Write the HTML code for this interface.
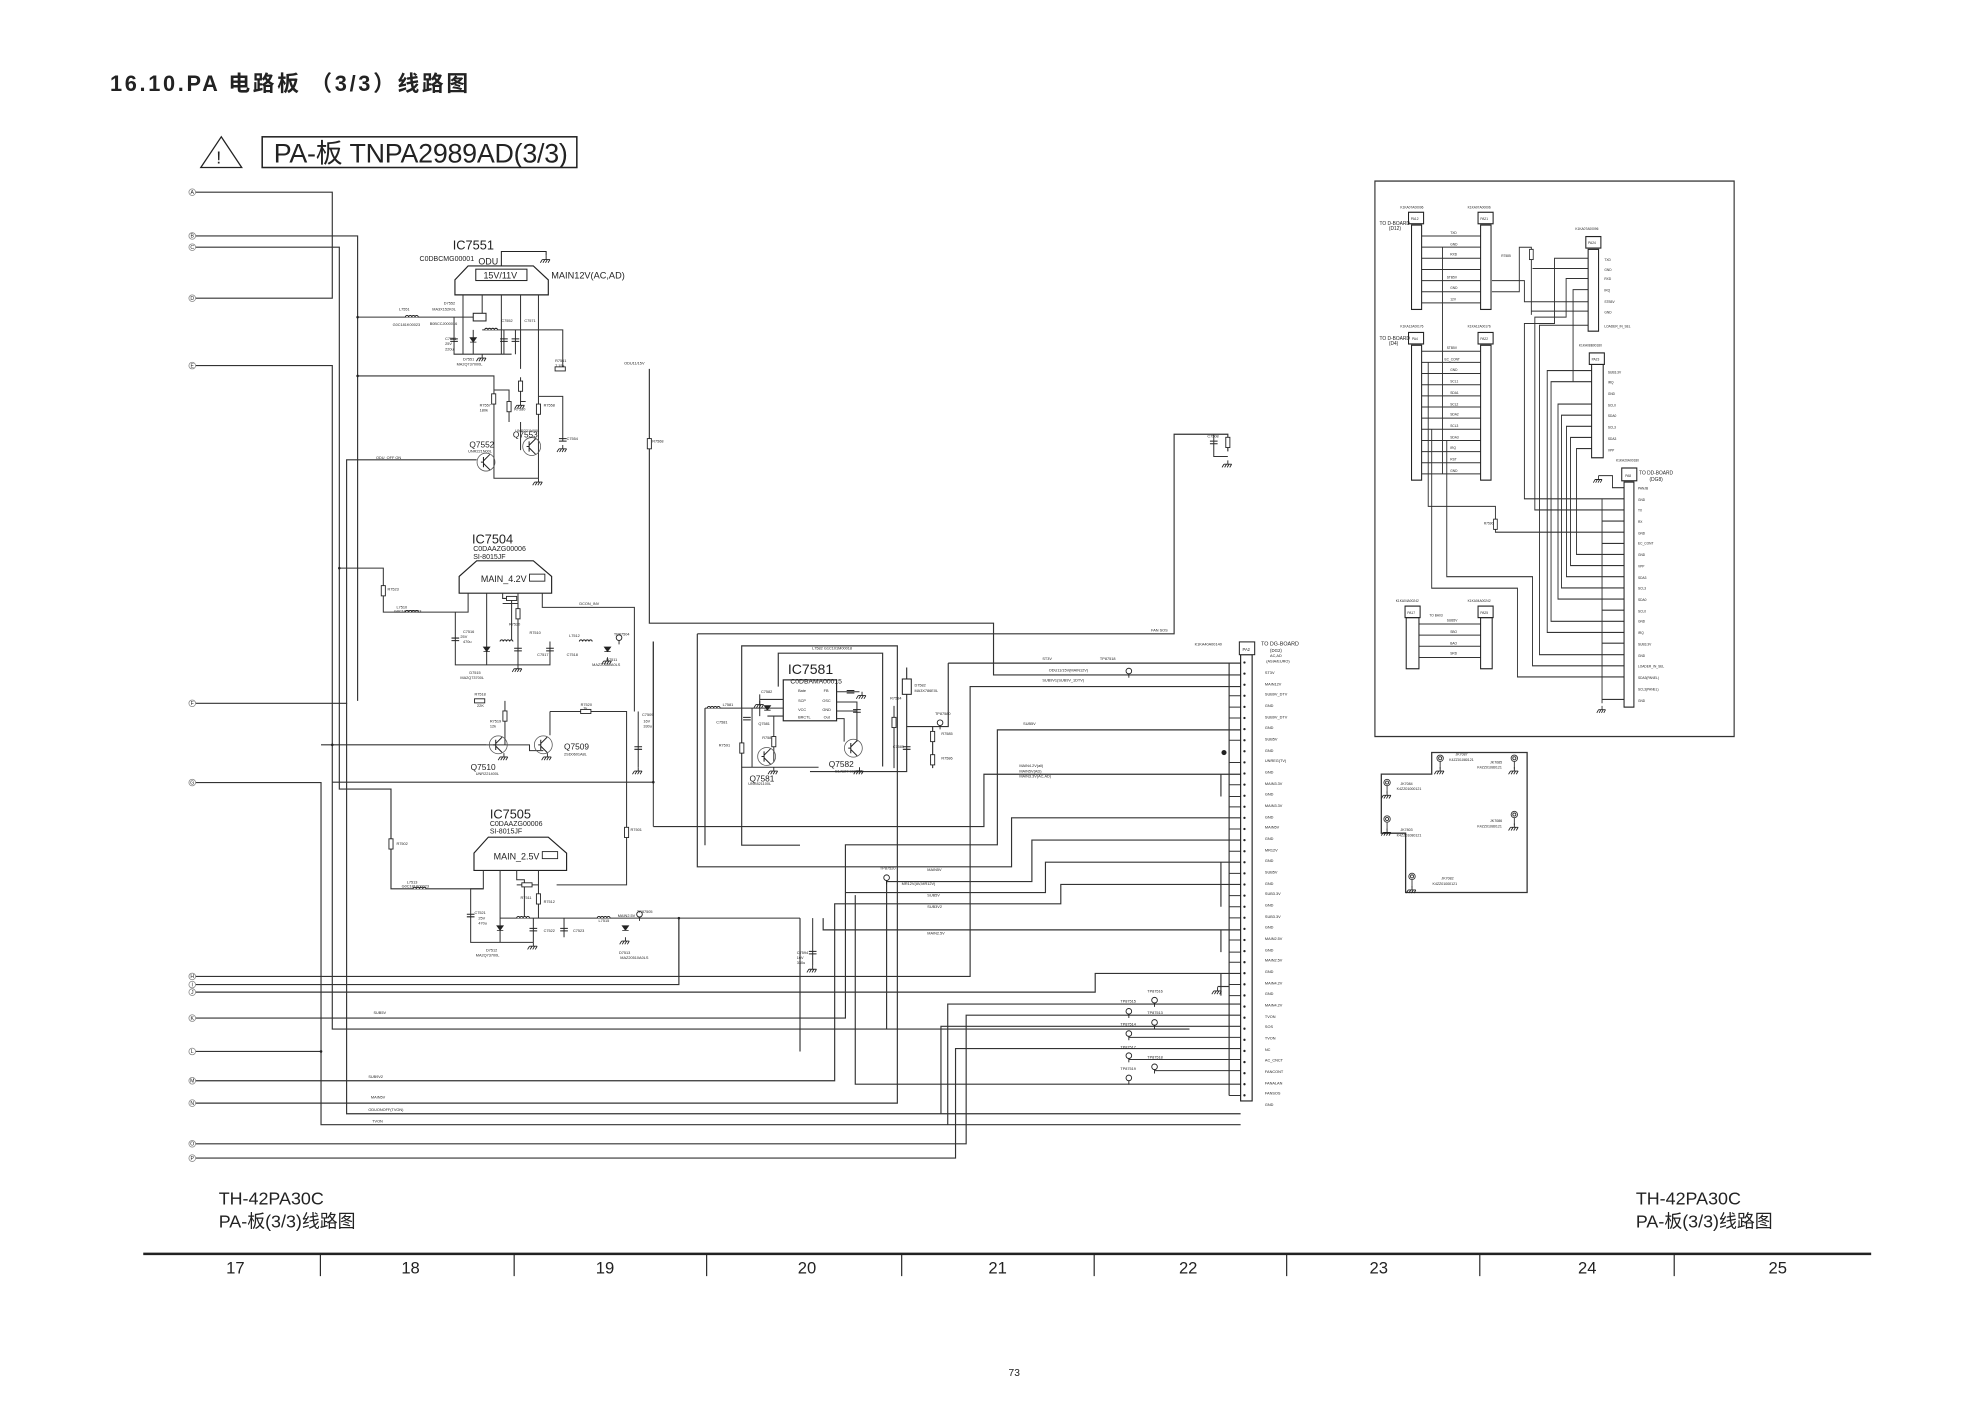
<!DOCTYPE html>
<html><head><meta charset="utf-8"><style>
html,body{margin:0;padding:0;background:#fff;}
svg{display:block;}
text{font-family:"Liberation Sans","Noto Sans CJK SC",sans-serif;fill:#222;}
</style></head><body>
<svg width="1985" height="1404" viewBox="0 0 1552 1098" preserveAspectRatio="none" xmlns="http://www.w3.org/2000/svg">
<defs>
<g id="gnd" stroke="#222" stroke-width="0.7" fill="none"><path d="M0,0v3M-3,3h6M-3,3l-1.5,2.5M-1,3l-1.5,2.5M1,3l-1.5,2.5M3,3l-1.5,2.5"/></g>
<g id="rv"><rect x="-1.6" y="-4" width="3.2" height="8" fill="#fff" stroke="#222" stroke-width="0.7"/></g>
<g id="rh"><rect x="-4" y="-1.6" width="8" height="3.2" fill="#fff" stroke="#222" stroke-width="0.7"/></g>
<g id="cv" stroke="#222" stroke-width="0.8"><path d="M-3,-1h6M-3,1h6" /></g>
<g id="tr"><circle r="7" fill="none" stroke="#555" stroke-width="0.6"/><path d="M-4,0h2M-2,-4v8M-2,-1l5,-5M-2,1l5,5" stroke="#222" stroke-width="0.8" fill="none"/></g>
<g id="tp"><circle r="2.2" cy="-3" fill="#fff" stroke="#222" stroke-width="0.7"/><path d="M0,-0.8v3" stroke="#222" stroke-width="0.7"/></g>
<g id="ind"><path d="M-5,0a1.25,1.25 0 0 1 2.5,0a1.25,1.25 0 0 1 2.5,0a1.25,1.25 0 0 1 2.5,0a1.25,1.25 0 0 1 2.5,0" fill="#fff" stroke="#222" stroke-width="0.8"/></g>
<g id="dio"><path d="M-2.5,-2h5l-2.5,3.5z M-2.5,1.6h5" fill="#222" stroke="#222" stroke-width="0.6"/></g>
</defs>

<!-- Title -->
<text x="86" y="71" font-size="17" font-weight="bold" font-family="Liberation Mono,'Noto Sans CJK SC',monospace" textLength="280">16.10.PA 电路板 （3/3）线路图</text>
<path d="M173,107 L157,131 L189,131 Z" fill="none" stroke="#222" stroke-width="1"/>
<text x="171" y="128" font-size="14" text-anchor="middle">!</text>
<rect x="205" y="107" width="246" height="24" fill="none" stroke="#222" stroke-width="1.2"/>
<text x="214" y="127" font-size="21" textLength="230">PA-板 TNPA2989AD(3/3)</text>

<g stroke="#333" stroke-width="0.9" fill="none">
<path d="M153,150.3H259.8V233.2H153"/>
<path d="M153,184.5H279.6V548.1"/>
<path d="M153,193.3H265.3V617.1H305.7V695.1H377.9"/>
<path d="M153,285.9H259.8V804.8H930"/>
<path d="M153,550H271V359.6H372.7"/>
<path d="M271,550V871H970"/>
<path d="M153,612H251V879.6H970"/>
<path d="M251,582.5H380.5"/>
<path d="M259.8,611.7H510.8V501.7"/>
<path d="M510.8,646.4H769.3V605.5H970"/>
<path d="M153,763.6H758.5V536.9H970"/>
<path d="M153,770H530.8V718"/>
<path d="M153,775.9H856.3V761.3H970"/>
<path d="M153,796.2H661V660.7H779.8V570.8H970"/>
<path d="M153,822.3H251"/>
<path d="M153,845.2H652.6V706.8H829.4V691.7H970"/>
<path d="M153,862.7H701.6V505.1H579.9V661H625.5"/>
<path d="M153,894.5H755.4V793.9H970"/>
<path d="M153,905.7H747.1V820H970"/>
<path d="M693.2,804.8V689.4H806.8V657H970"/>
<path d="M735.7,871V802.6H970"/>
<path d="M741,879.6V785.2H970"/>
<path d="M668.7,700V847.9H970"/>
<path d="M661,698H817.4V674.3H970"/>
<path d="M643.6,718V727.2H970"/>
<path d="M625.5,718V822.3"/>
<path d="M545.2,495.7H918V339.6H960V353"/>
<path d="M545.2,495.7V677.9H790.9V639.6H970"/>
<path d="M507.7,288.5V487.4H776.8V527.8H970"/>
<path d="M741.4,518.6H970"/>
<path d="M741.4,518.6V568.2H708.9"/>
<path d="M708.9,522V603.4H633.3"/>
<path d="M551.2,553.8V661"/>
<path d="M608.5,537V510.8H690.1V599.4"/>
<path d="M729.2,568.2V600.7"/>
<path d="M961,518.1V856.7"/>
<path d="M954.6,605.5V622.9M954.6,674.3V691.7V709.1M954.6,727.2V744.6M954.6,761.3V778.6"/>
<path d="M961,771.5H952"/>
</g>
<g stroke="#333" stroke-width="0.8">
<path d="M961,544.1H970M961,561.5H970M961,578.9H970M961,596.3H970M961,613.7H970M961,631H970M961,648.3H970M961,665.7H970M961,683H970M961,700.4H970M961,717.8H970M961,735.1H970M961,752.5H970M961,769.9H970M961,856.7H970M961,553H970M961,622.9H970M961,709.1H970M961,744.6H970M961,778.6H970"/>
<path d="M882.6,811.3H970M882.6,828.6H970M902.7,837.3H970"/>
</g>
<!-- connector PA2 -->
<rect x="970" y="512" width="9" height="349" fill="#fff" stroke="#222" stroke-width="0.9"/>
<rect x="969" y="502" width="12" height="10" fill="#fff" stroke="#222" stroke-width="0.8"/>
<text x="971.5" y="509" font-size="3.2">PA2</text>
<text x="934" y="505" font-size="3">K1KA40A00140</text>
<text x="986" y="505" font-size="4.2">TO DG-BOARD</text>
<text x="993" y="510" font-size="3.4">(DG2)</text>
<text x="993" y="514" font-size="3">AC,AD</text>
<text x="990" y="518" font-size="3">(ASIA/EURO)</text>
<g font-size="3" fill="#333">
<text x="989" y="527">ST3V</text><text x="989" y="536">MAIN12V</text><text x="989" y="544">SUB9V_DTV</text><text x="989" y="553">GND</text><text x="989" y="562">SUB9V_DTV</text><text x="989" y="570">GND</text><text x="989" y="579">SUB5V</text><text x="989" y="588">GND</text><text x="989" y="596">UNREG(TV)</text><text x="989" y="605">GND</text><text x="989" y="614">MAIN3.3V</text><text x="989" y="622">GND</text><text x="989" y="631">MAIN3.3V</text><text x="989" y="640">GND</text><text x="989" y="648">MAIN5V</text><text x="989" y="657">GND</text><text x="989" y="666">MR12V</text><text x="989" y="674">GND</text><text x="989" y="683">SUB5V</text><text x="989" y="692">GND</text><text x="989" y="700">SUB3.3V</text><text x="989" y="709">GND</text><text x="989" y="718">SUB3.3V</text><text x="989" y="726">GND</text><text x="989" y="735">MAIN2.5V</text><text x="989" y="744">GND</text><text x="989" y="752">MAIN2.5V</text><text x="989" y="761">GND</text><text x="989" y="770">MAIN4.2V</text><text x="989" y="778">GND</text><text x="989" y="787">MAIN4.2V</text><text x="989" y="796">TVON</text><text x="989" y="804">SOS</text><text x="989" y="813">TVON</text><text x="989" y="822">NC</text><text x="989" y="830">AC_CNCT</text><text x="989" y="839">FANCONT</text><text x="989" y="848">FANALAN</text><text x="989" y="856">FANSOS</text><text x="989" y="865">GND</text>
</g>
<g fill="#222">
<circle cx="973" cy="518.1" r="0.9"/><circle cx="973" cy="526.8" r="0.9"/><circle cx="973" cy="535.5" r="0.9"/><circle cx="973" cy="544.1" r="0.9"/><circle cx="973" cy="552.8" r="0.9"/><circle cx="973" cy="561.5" r="0.9"/><circle cx="973" cy="570.2" r="0.9"/><circle cx="973" cy="578.9" r="0.9"/><circle cx="973" cy="587.5" r="0.9"/><circle cx="973" cy="596.2" r="0.9"/><circle cx="973" cy="604.9" r="0.9"/><circle cx="973" cy="613.6" r="0.9"/><circle cx="973" cy="622.3" r="0.9"/><circle cx="973" cy="630.9" r="0.9"/><circle cx="973" cy="639.6" r="0.9"/><circle cx="973" cy="648.3" r="0.9"/><circle cx="973" cy="657" r="0.9"/><circle cx="973" cy="665.7" r="0.9"/><circle cx="973" cy="674.3" r="0.9"/><circle cx="973" cy="683" r="0.9"/><circle cx="973" cy="691.7" r="0.9"/><circle cx="973" cy="700.4" r="0.9"/><circle cx="973" cy="709.1" r="0.9"/><circle cx="973" cy="717.7" r="0.9"/><circle cx="973" cy="726.4" r="0.9"/><circle cx="973" cy="735.1" r="0.9"/><circle cx="973" cy="743.8" r="0.9"/><circle cx="973" cy="752.5" r="0.9"/><circle cx="973" cy="761.1" r="0.9"/><circle cx="973" cy="769.8" r="0.9"/><circle cx="973" cy="778.5" r="0.9"/><circle cx="973" cy="787.2" r="0.9"/><circle cx="973" cy="795.9" r="0.9"/><circle cx="973" cy="804.5" r="0.9"/><circle cx="973" cy="813.2" r="0.9"/><circle cx="973" cy="821.9" r="0.9"/><circle cx="973" cy="830.6" r="0.9"/><circle cx="973" cy="839.3" r="0.9"/><circle cx="973" cy="847.9" r="0.9"/><circle cx="973" cy="856.6" r="0.9"/>
<circle cx="957" cy="588.5" r="2"/>
</g>
<use href="#gnd" x="952" y="772"/>
<use href="#tp" x="902.7" y="785.2"/><use href="#tp" x="882.6" y="793.9"/><use href="#tp" x="902.7" y="802.6"/><use href="#tp" x="882.6" y="811.3"/><use href="#tp" x="882.6" y="828.6"/><use href="#tp" x="902.7" y="837.3"/><use href="#tp" x="882.6" y="846"/><use href="#tp" x="693.2" y="689.4"/><use href="#tp" x="735" y="568.2"/><use href="#tp" x="882.6" y="527.8"/>
<g font-size="3" fill="#333">
<text x="897" y="776">TP87516</text><text x="876" y="784">TP87515</text><text x="897" y="793">TP87513</text><text x="876" y="802">TP87514</text><text x="876" y="820">TP87517</text><text x="897" y="828">TP87518</text><text x="876" y="837">TP87519</text><text x="688" y="680">TP87520</text>
<text x="860" y="516">TP87518</text><text x="815" y="516">ST3V</text><text x="820" y="525">ODU11/15V(MAIN12V)</text><text x="815" y="533">SUB9V1(SUB9V_1DTV)</text><text x="800" y="567">SUB5V</text><text x="797" y="600">MAIN4.2V(all)</text><text x="797" y="604">MAIN5V(AD)</text><text x="797" y="608">MAIN3.3V(AC,AD)</text>
<text x="725" y="681">MAIN5V</text><text x="705" y="692">MR12V(AV,MR12V)</text><text x="725" y="701">SUB5V</text><text x="725" y="710">SUB3V2</text><text x="725" y="731">MAIN2.5V</text><text x="900" y="494">FAN SOS</text>
<text x="292" y="793">SUB5V</text><text x="288" y="843">SUB9V2</text><text x="290" y="859">MAIN5V</text><text x="288" y="869">ODUONOFF(TVON)</text><text x="291" y="878">TVON</text>
<text x="488" y="285">ODU11/15V</text><text x="453" y="473">DCON_INV</text>
</g>

<!-- IC7551 -->
<text x="354" y="195" font-size="10">IC7551</text>
<text x="328" y="204" font-size="5.5">C0DBCMG00001</text>
<text x="374" y="207" font-size="7">ODU</text>
<path d="M392,208V196.7H427V200" fill="none" stroke="#222" stroke-width="0.8"/>
<use href="#gnd" x="427" y="200"/>
<path d="M366,208H417L428.7,218.9V230.6H355.7V218.9Z" fill="#fff" stroke="#222" stroke-width="0.9"/>
<rect x="372" y="210.5" width="40" height="8.9" fill="#fff" stroke="#222" stroke-width="0.8"/>
<text x="378" y="217.8" font-size="7">15V/11V</text>
<text x="431" y="218" font-size="7.2">MAIN12V(AC,AD)</text>
<g stroke="#333" stroke-width="0.8" fill="none">
<path d="M362,230.6V277M377,230.6V247M392,230.6V277M407,230.6V288.5M421,230.6V374"/>
<path d="M279.6,248H363.5M363.5,248H377M377,258H440V288.5"/>
<path d="M355,248V277H400M370,258V277M394,258V277M403,258V277"/>
<path d="M279.6,294H386.2V374H421M407,295V314H411M421,310H440V345"/>
<path d="M386,305H398V330M407,330V352"/>
</g>
<use href="#ind" x="322" y="248"/><use href="#ind" x="384" y="258"/>
<rect x="370" y="245" width="10" height="6" fill="#fff" stroke="#222" stroke-width="0.8"/>
<use href="#cv" x="355" y="266"/><use href="#cv" x="394" y="266"/><use href="#cv" x="403" y="266"/><use href="#dio" x="370" y="266"/>
<use href="#gnd" x="377" y="277"/>
<use href="#rh" x="438" y="288.5"/><use href="#rv" x="407" y="302"/><use href="#rv" x="386" y="312"/><use href="#rv" x="398" y="318"/><use href="#rv" x="421" y="320"/><use href="#cv" x="440" y="344"/><use href="#gnd" x="440" y="348"/><use href="#gnd" x="407" y="314"/>
<use href="#rv" x="507.7" y="347"/>
<use href="#tr" x="380" y="361.4"/><use href="#tr" x="415.7" y="349.2"/><use href="#gnd" x="421" y="374"/>
<g font-size="3" fill="#333"><text x="312" y="243">L7551</text><text x="307" y="255">G0C181K00023</text><text x="347" y="238">D7552</text><text x="338" y="243">MA3X152K0L</text><text x="336" y="254">B0BCCJ000016</text><text x="348" y="266">C7551</text><text x="348" y="270">25V</text><text x="348" y="274">220u</text><text x="362" y="282">D7551</text><text x="357" y="286">MA2Q737000L</text><text x="434" y="283">R7561</text><text x="434" y="287">7.15k</text><text x="392" y="252">C7552</text><text x="410" y="252">C7571</text><text x="375" y="318">R7557</text><text x="375" y="322">180k</text><text x="402" y="321">R7580</text><text x="425" y="318">R7558</text><text x="510" y="346">R7568</text><text x="294" y="359">ODU_OFF  ON</text><text x="403" y="338">UNR221N00L</text><text x="366" y="354">UNR221N00L</text><text x="443" y="344">C7554</text></g>
<text x="401" y="342" font-size="6.5">Q7553</text><text x="367" y="350" font-size="6.5">Q7552</text>

<!-- IC7504 -->
<text x="369" y="425" font-size="10">IC7504</text>
<text x="370" y="431" font-size="5.5">C0DAAZG00006</text>
<text x="370" y="437" font-size="5.5">SI-8015JF</text>
<path d="M372.7,438.6H417L431.3,450.8V463.9H359V450.8Z" fill="#fff" stroke="#222" stroke-width="0.9"/>
<text x="376" y="455" font-size="7">MAIN_4.2V</text><rect x="414" y="449" width="12" height="5.5" fill="none" stroke="#222" stroke-width="0.7"/>
<g stroke="#333" stroke-width="0.8" fill="none">
<path d="M366,463.9V478.7H299.7V444.3H265.3M380.5,463.9V520M393,463.9V468H400V501.7M405,463.9V520"/>
<path d="M424,463.9V475H496V556.4"/>
<path d="M356,478.7V520H430V501.7"/>
<path d="M393,472H405M405,472V501.7"/>
<path d="M510.8,501.7V646.4"/>
<path d="M394.8,548.1V582.5H380.5M394.8,582.5H414V587H424.8M430,556.4H489.9V692H435.2M430,556.4V575"/>
<path d="M499,556.4V600"/>
</g>
<use href="#rv" x="299.7" y="462"/><use href="#ind" x="322" y="478.7"/><use href="#cv" x="356" y="500"/><use href="#dio" x="380.5" y="508"/><use href="#rh" x="400" y="468"/><use href="#rv" x="405" y="480"/><use href="#ind" x="396" y="501.7"/><use href="#cv" x="405" y="508"/><use href="#cv" x="430" y="508"/><use href="#ind" x="458" y="501.7"/><use href="#dio" x="475" y="508"/><use href="#tp" x="484" y="501.7"/><use href="#gnd" x="405" y="520"/><use href="#gnd" x="475" y="514"/>
<use href="#rh" x="375" y="548.1"/><use href="#rv" x="394.8" y="560"/><use href="#rh" x="458" y="556.4"/><use href="#tr" x="389.6" y="582.5"/><use href="#tr" x="424.8" y="582.5"/><use href="#gnd" x="394" y="589"/><use href="#gnd" x="428" y="589"/><use href="#cv" x="499" y="585"/><use href="#gnd" x="499" y="600"/>
<text x="368" y="602" font-size="6.5">Q7510</text><text x="441" y="586" font-size="6.5">Q7509</text>
<g font-size="3" fill="#333"><text x="303" y="462">R7523</text><text x="310" y="476">L7510</text><text x="308" y="479">G0C181K00023</text><text x="362" y="495">C7516</text><text x="360" y="499">25V</text><text x="362" y="503">470u</text><text x="367" y="527">D7515</text><text x="360" y="531">MA2Q73700L</text><text x="398" y="489">R7520</text><text x="414" y="496">R7510</text><text x="445" y="498">L7512</text><text x="480" y="497">TP87504</text><text x="474" y="517">D7511</text><text x="463" y="521">MAZ20680A0LS</text><text x="420" y="513">C7517</text><text x="443" y="513">C7518</text><text x="371" y="544">R7518</text><text x="373" y="553">22K</text><text x="383" y="565">R7519</text><text x="383" y="569">12k</text><text x="454" y="552">R7520</text><text x="456" y="555">1k</text><text x="372" y="606">UNR221400L</text><text x="441" y="591">2SD0601A8L</text><text x="502" y="560">C7509</text><text x="503" y="565">16V</text><text x="503" y="569">330u</text></g>

<!-- IC7505 -->
<text x="383" y="640" font-size="10">IC7505</text>
<text x="383" y="646" font-size="5.5">C0DAAZG00006</text>
<text x="383" y="652" font-size="5.5">SI-8015JF</text>
<path d="M381.8,654.7H428.7L443,667.2V680.7H370.6V667.2Z" fill="#fff" stroke="#222" stroke-width="0.9"/>
<text x="386" y="672" font-size="7">MAIN_2.5V</text><rect x="424" y="666" width="12" height="5.5" fill="none" stroke="#222" stroke-width="0.7"/>
<g stroke="#333" stroke-width="0.8" fill="none">
<path d="M377.9,680.7V695.1H368V737H417M391,680.7V737M404,680.7V688H410V718M421,680.7V718"/>
<path d="M404,692H421M391,718H625.5"/>
<path d="M417,718V737M441,718V733"/>
<path d="M530.8,718V763.6"/>
<path d="M635.4,718V755"/>
</g>
<use href="#rv" x="305.7" y="660"/><use href="#ind" x="328" y="695.1"/><use href="#cv" x="368" y="716"/><use href="#dio" x="391" y="726"/><use href="#rh" x="412" y="692"/><use href="#rv" x="421" y="703"/><use href="#ind" x="409" y="718"/><use href="#cv" x="417" y="727"/><use href="#cv" x="441" y="727"/><use href="#ind" x="472" y="718"/><use href="#dio" x="489" y="726"/><use href="#tp" x="500" y="718"/><use href="#gnd" x="417" y="737"/><use href="#gnd" x="489" y="733"/><use href="#rv" x="489.9" y="651"/>
<use href="#cv" x="635.4" y="745"/><use href="#gnd" x="635.4" y="755"/>
<g font-size="3" fill="#333"><text x="310" y="661">R7502</text><text x="318" y="691">L7513</text><text x="314" y="694">G0C181K00023</text><text x="371" y="715">C7521</text><text x="374" y="719">25V</text><text x="374" y="723">470u</text><text x="380" y="744">D7512</text><text x="372" y="748">MA2Q73700L</text><text x="407" y="703">R7511</text><text x="425" y="706">R7512</text><text x="425" y="729">C7522</text><text x="448" y="729">C7523</text><text x="468" y="721">L7515</text><text x="483" y="717">MAIN2.5V</text><text x="498" y="714">TP87505</text><text x="484" y="746">D7513</text><text x="485" y="750">MAZ20510A0LS</text><text x="493" y="650">R7501</text><text x="623" y="746">C7594</text><text x="623" y="750">16V</text><text x="623" y="754">330u</text></g>

<!-- IC7581 -->
<rect x="612.4" y="531.7" width="41.7" height="32" fill="#fff" stroke="#222" stroke-width="0.9"/>
<text x="616" y="527" font-size="11">IC7581</text>
<text x="618" y="534.5" font-size="5.3">C0DBAMA00015</text>
<g font-size="3" fill="#333"><text x="624" y="541">Bate</text><text x="624" y="549">SCP</text><text x="624" y="556">VCC</text><text x="624" y="562">BRCTL</text><text x="644" y="541">FB</text><text x="643" y="549">OSC</text><text x="643" y="556">GND</text><text x="644" y="562">Out</text><text x="635" y="508">L7582 G1C101M00018</text><text x="595" y="542">C7582</text><text x="565" y="552">L7581</text><text x="560" y="566">C7581</text><text x="562" y="584">R7591</text><text x="593" y="567">Q7581</text><text x="596" y="578">R7583</text><text x="585" y="614">UNR821100L</text><text x="653" y="604">B1ABFF000009</text><text x="696" y="547">R7584</text><text x="715" y="537">D7582</text><text x="715" y="541">MA3X786E0L</text><text x="736" y="575">R7585</text><text x="736" y="594">R7586</text><text x="698" y="585">C7585</text><text x="731" y="559">TP87580</text></g>
<g stroke="#333" stroke-width="0.8" fill="none">
<path d="M551.2,553.8H612.4M594,547H612.4M594,543V560M600,560H612.4M605,560V596M654.1,541H672M654.1,549H670V580M654.1,556H670M654.1,562H660V580M699,552V600.7"/>
<path d="M588,553.8V600M580,600H640"/>
</g>
<use href="#ind" x="558" y="553.8"/><use href="#cv" x="584" y="562"/><use href="#rv" x="580" y="585"/><use href="#dio" x="600" y="553.8"/><use href="#rv" x="605" y="580"/><use href="#cv" x="665" y="541"/><use href="#cv" x="670" y="556"/><use href="#rv" x="699" y="565"/><use href="#rv" x="729.2" y="576"/><use href="#rv" x="729.2" y="594.2"/><use href="#cv" x="708.9" y="585"/><rect x="705.5" y="531" width="7" height="12" fill="#fff" stroke="#222" stroke-width="0.8"/>
<use href="#tr" x="599.4" y="591.6"/><use href="#tr" x="667.2" y="585.1"/><use href="#gnd" x="605" y="600"/><use href="#gnd" x="672" y="600"/><use href="#gnd" x="674" y="541"/><use href="#gnd" x="594" y="548"/>
<text x="586" y="611" font-size="6.5">Q7581</text><text x="648" y="600" font-size="6.5">Q7582</text>
<use href="#cv" x="949" y="346"/><use href="#rv" x="960" y="346"/><use href="#gnd" x="960" y="360"/>
<path d="M949,339.6V357H960" stroke="#333" stroke-width="0.8" fill="none"/>
<text x="944" y="342" font-size="3">C7508</text>

<!-- letters -->
<g font-size="4" text-anchor="middle" fill="#444">
<circle cx="150.3" cy="150.3" r="2.6" fill="#fff" stroke="#888" stroke-width="0.6"/><text x="150.3" y="151.7">A</text>
<circle cx="150.3" cy="184.5" r="2.6" fill="#fff" stroke="#888" stroke-width="0.6"/><text x="150.3" y="185.9">B</text>
<circle cx="150.3" cy="193.3" r="2.6" fill="#fff" stroke="#888" stroke-width="0.6"/><text x="150.3" y="194.7">C</text>
<circle cx="150.3" cy="233.2" r="2.6" fill="#fff" stroke="#888" stroke-width="0.6"/><text x="150.3" y="234.6">D</text>
<circle cx="150.3" cy="285.9" r="2.6" fill="#fff" stroke="#888" stroke-width="0.6"/><text x="150.3" y="287.3">E</text>
<circle cx="150.3" cy="550" r="2.6" fill="#fff" stroke="#888" stroke-width="0.6"/><text x="150.3" y="551.4">F</text>
<circle cx="150.3" cy="612" r="2.6" fill="#fff" stroke="#888" stroke-width="0.6"/><text x="150.3" y="613.4">G</text>
<circle cx="150.3" cy="763.6" r="2.6" fill="#fff" stroke="#888" stroke-width="0.6"/><text x="150.3" y="765">H</text>
<circle cx="150.3" cy="770" r="2.6" fill="#fff" stroke="#888" stroke-width="0.6"/><text x="150.3" y="771.4">I</text>
<circle cx="150.3" cy="775.9" r="2.6" fill="#fff" stroke="#888" stroke-width="0.6"/><text x="150.3" y="777.3">J</text>
<circle cx="150.3" cy="796.2" r="2.6" fill="#fff" stroke="#888" stroke-width="0.6"/><text x="150.3" y="797.6">K</text>
<circle cx="150.3" cy="822.3" r="2.6" fill="#fff" stroke="#888" stroke-width="0.6"/><text x="150.3" y="823.7">L</text>
<circle cx="150.3" cy="845.2" r="2.6" fill="#fff" stroke="#888" stroke-width="0.6"/><text x="150.3" y="846.6">M</text>
<circle cx="150.3" cy="862.7" r="2.6" fill="#fff" stroke="#888" stroke-width="0.6"/><text x="150.3" y="864.1">N</text>
<circle cx="150.3" cy="894.5" r="2.6" fill="#fff" stroke="#888" stroke-width="0.6"/><text x="150.3" y="895.9">O</text>
<circle cx="150.3" cy="905.7" r="2.6" fill="#fff" stroke="#888" stroke-width="0.6"/><text x="150.3" y="907.1">P</text>
</g>
<g fill="#222"><circle cx="279.6" cy="248" r="1"/><circle cx="279.6" cy="294" r="1"/><circle cx="251" cy="822.3" r="1"/><circle cx="530.8" cy="718" r="1"/><circle cx="510.8" cy="611.7" r="1"/><circle cx="259.8" cy="582.5" r="1"/><circle cx="265.3" cy="444.3" r="1"/></g>

<!-- Right box (scaled horizontally) -->
<g transform="translate(1075,0) scale(0.906,1) translate(-1075,0)">
<rect x="1075" y="141.6" width="310" height="434.4" fill="none" stroke="#333" stroke-width="1"/>
<g stroke="#333" stroke-width="0.8" fill="none">
<path d="M1115,184.6H1166M1115,193.3H1166M1115,202H1166M1115,210.8H1166M1115,219.5H1166M1115,228.2H1166M1115,236.9H1166"/>
<path d="M1115,274.7H1166M1115,283.4H1166M1115,292.1H1166M1115,300.9H1166M1115,309.6H1166M1115,318.3H1166M1115,327H1166M1115,335.7H1166M1115,344.5H1166M1115,353.2H1166M1115,361.9H1166M1115,370.6H1166"/>
<path d="M1133.3,193.3V370.6"/>
<path d="M1113,488H1166M1113,496.7H1166M1113,505.4H1166M1113,514.2H1166"/>
<path d="M1176,219.5H1204V236H1259M1176,228.2H1199.6V193.4H1210V199M1210,203V246.2V243.3H1259M1211,210H1259"/>
<path d="M1290,390.1H1204V253H1230V202H1259"/>
<path d="M1290,398.8H1213V248H1240V217.8H1259"/>
<path d="M1290,416.2H1179V396H1121V283.4"/>
<path d="M1290,433.6H1249V350.8H1262M1290,442.3H1243.8V342.1H1262M1290,451H1240.3V333.4H1262M1290,459.8H1236V324.7H1262M1290,468.5H1233V316H1262"/>
<path d="M1290,485.9H1227V298.5H1262M1290,494.6H1223.7V289.8H1262M1246,298.5V226.5H1259"/>
<path d="M1290,512H1217V254.4H1259"/>
<path d="M1290,520.7H1211V451H1137V344.5"/>
<path d="M1290,529.4H1198V460H1124V335.7"/>
<path d="M1271,390V550M1271,407.5H1290M1271,425H1290M1271,477.2H1290M1271,503H1290M1271,547H1290"/>
<path d="M1268,372H1280V381.4H1290"/>
</g>
<use href="#rv" x="1179" y="410"/><use href="#rv" x="1210" y="199"/><use href="#gnd" x="1268" y="372"/><use href="#gnd" x="1271" y="552"/>
<g fill="#fff" stroke="#222" stroke-width="0.9">
<rect x="1106.6" y="176" width="8.7" height="66"/><rect x="1104" y="166" width="13" height="9"/>
<rect x="1166.2" y="176" width="9" height="66"/><rect x="1164" y="166" width="13" height="9"/>
<rect x="1106.6" y="270" width="8.7" height="105.5"/><rect x="1104" y="260" width="13" height="9"/>
<rect x="1166.2" y="270" width="9" height="105.5"/><rect x="1164" y="260" width="13" height="9"/>
<rect x="1259" y="195" width="9" height="64"/><rect x="1257" y="185" width="13" height="9"/>
<rect x="1262" y="285" width="10" height="73"/><rect x="1260" y="276" width="13" height="9"/>
<rect x="1290" y="377" width="8.5" height="176"/><rect x="1288" y="366" width="13" height="10"/>
<rect x="1102" y="483" width="11" height="40"/><rect x="1101" y="474" width="13" height="9"/>
<rect x="1166.2" y="483" width="10" height="40"/><rect x="1164" y="474" width="13" height="9"/>
</g>
<g font-size="2.8" fill="#333">
<text x="1106" y="172">PA12</text><text x="1166" y="172">PA21</text><text x="1107" y="266">PA4</text><text x="1166" y="266">PA22</text><text x="1259" y="191">PA24</text><text x="1262" y="282">PA23</text><text x="1291" y="373">PA8</text><text x="1103" y="480">PA17</text><text x="1166" y="480">PA25</text>
<text x="1097" y="163">K1KA07A00096</text><text x="1155" y="163">K1KA07A00096</text><text x="1248" y="180">K1KA07A00096</text><text x="1097" y="256">K1KA12A00176</text><text x="1155" y="256">K1KA12A00176</text><text x="1251" y="271">K1KA08B00180</text><text x="1283" y="361">K1KA20A00180</text><text x="1093" y="471">K1KA04A00242</text><text x="1155" y="471">K1KA04A00242</text>
<text x="1122" y="482">TO BA03</text>
<text x="1140" y="183">TXD</text><text x="1140" y="192">GND</text><text x="1140" y="200">RXD</text><text x="1137" y="218">STB5V</text><text x="1140" y="226">GND</text><text x="1140" y="235">12V</text>
<text x="1137" y="273">STB5V</text><text x="1135" y="282">EC_CONT</text><text x="1140" y="290">GND</text><text x="1140" y="299">SCL1</text><text x="1140" y="308">SDA1</text><text x="1140" y="317">SCL2</text><text x="1140" y="325">SDA2</text><text x="1140" y="334">SCL3</text><text x="1140" y="343">SDA3</text><text x="1140" y="351">IRQ</text><text x="1140" y="360">RST</text><text x="1140" y="369">GND</text>
<text x="1137" y="486">SUB5V</text><text x="1140" y="495">SBO</text><text x="1140" y="504">BAO</text><text x="1140" y="512">SRD</text>
<text x="1273" y="204">TXD</text><text x="1273" y="212">GND</text><text x="1273" y="219">RXD</text><text x="1273" y="228">IRQ</text><text x="1273" y="237">STB5V</text><text x="1273" y="245">GND</text><text x="1273" y="256">LOADER_IN_SEL</text>
<text x="1276" y="292">SUB3.3V</text><text x="1276" y="300">IRQ</text><text x="1276" y="309">GND</text><text x="1276" y="318">SCL0</text><text x="1276" y="326">SDA0</text><text x="1276" y="335">SCL3</text><text x="1276" y="344">SDA3</text><text x="1276" y="353">VPP</text>
<text x="1302" y="383">PANJB</text><text x="1302" y="392">GND</text><text x="1302" y="400">TX</text><text x="1302" y="409">RX</text><text x="1302" y="418">GND</text><text x="1302" y="426">EC_CONT</text><text x="1302" y="435">GND</text><text x="1302" y="444">VPP</text><text x="1302" y="453">SDA3</text><text x="1302" y="461">SCL3</text><text x="1302" y="470">SDA0</text><text x="1302" y="479">SCL0</text><text x="1302" y="487">GND</text><text x="1302" y="496">IRQ</text><text x="1302" y="505">SUB3.3V</text><text x="1302" y="514">GND</text><text x="1302" y="522">LOADER_IN_SEL</text><text x="1302" y="531">SDA3(PANEL)</text><text x="1302" y="540">SCL3(PANEL)</text><text x="1302" y="549">GND</text>
<text x="1184" y="201">R7585</text><text x="1169" y="410">R7590</text>
</g>
<g font-size="4.2" fill="#222"><text x="1079" y="176">TO D-BOARD</text><text x="1087" y="180">(D12)</text><text x="1079" y="266">TO D-BOARD</text><text x="1087" y="270">(D4)</text><text x="1303" y="371">TO DD-BOARD</text><text x="1312" y="376">(DG8)</text></g>
</g>

<!-- small box -->
<path d="M1080,605.4H1119.4V588.5H1194V698H1099V651.6H1080Z" fill="none" stroke="#333" stroke-width="1"/>
<g stroke="#333" stroke-width="0.7" fill="none">
<circle cx="1126" cy="593" r="2.5"/><circle cx="1126" cy="593" r="1.2"/><path d="M1126,595.5V601"/>
<circle cx="1184" cy="593" r="2.5"/><circle cx="1184" cy="593" r="1.2"/><path d="M1184,595.5V601"/>
<circle cx="1084.5" cy="612" r="2.5"/><circle cx="1084.5" cy="612" r="1.2"/><path d="M1084.5,614.5V620"/>
<circle cx="1084.5" cy="640.5" r="2.5"/><circle cx="1084.5" cy="640.5" r="1.2"/><path d="M1084.5,643V649"/>
<circle cx="1184" cy="637" r="2.5"/><circle cx="1184" cy="637" r="1.2"/><path d="M1184,639.5V645"/>
<circle cx="1104" cy="685.4" r="2.5"/><circle cx="1104" cy="685.4" r="1.2"/><path d="M1104,688V694"/>
</g>
<use href="#gnd" x="1126" y="600"/><use href="#gnd" x="1184" y="600"/><use href="#gnd" x="1084.5" y="619"/><use href="#gnd" x="1084.5" y="648"/><use href="#gnd" x="1184" y="644"/><use href="#gnd" x="1104" y="693"/>
<g font-size="2.8" fill="#444"><text x="1138" y="591">JK7087</text><text x="1133" y="595">K4ZZ01080121</text><text x="1165" y="597">JK7085</text><text x="1155" y="601">K4ZZ01080121</text><text x="1095" y="614">JK7084</text><text x="1092" y="618">K4ZZ01000121</text><text x="1095" y="650">JK7803</text><text x="1092" y="654">K4ZZ01080121</text><text x="1165" y="643">JK7086</text><text x="1155" y="647">K4ZZ01080121</text><text x="1127" y="688">JK7082</text><text x="1120" y="692">K4ZZ01000121</text></g>

<!-- bottom -->
<text x="171" y="942" font-size="14" fill="#222">TH-42PA30C</text>
<text x="171" y="960" font-size="14" fill="#222">PA-板(3/3)线路图</text>
<text x="1279" y="942" font-size="14" fill="#222">TH-42PA30C</text>
<text x="1279" y="960" font-size="14" fill="#222">PA-板(3/3)线路图</text>
<path d="M112,980.6H1463" stroke="#222" stroke-width="2"/>
<path d="M250.5,981V998M402,981V998M552.5,981V998M705,981V998M855.5,981V998M1006,981V998M1157,981V998M1309,981V998" stroke="#222" stroke-width="0.9"/>
<g font-size="13" text-anchor="middle" fill="#222"><text x="184" y="996">17</text><text x="321" y="996">18</text><text x="473" y="996">19</text><text x="631" y="996">20</text><text x="780" y="996">21</text><text x="929" y="996">22</text><text x="1078" y="996">23</text><text x="1241" y="996">24</text><text x="1390" y="996">25</text></g>
<text x="793" y="1076" font-size="8" text-anchor="middle" fill="#222">73</text>
</svg>
</body></html>
